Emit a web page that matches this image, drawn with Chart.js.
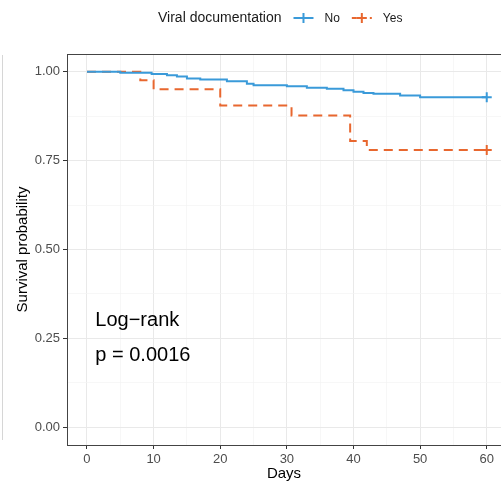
<!doctype html>
<html>
<head>
<meta charset="utf-8">
<title>Survival by viral documentation</title>
<script src="https://cdn.jsdelivr.net/npm/chart.js@4.4.1/dist/chart.umd.min.js"></script>
<style>
  html, body { margin: 0; padding: 0; background: #fff; overflow: hidden; }
</style>
</head>
<body>
<canvas id="km" width="501" height="486"></canvas>
<script>
// Kaplan-Meier steps: day of each drop and survival right after it
var daysNo  = [0, 5, 9.7, 12, 13.5, 15, 17, 21, 24, 25, 30, 33, 36, 38.5, 40, 41.5, 43, 47, 50, 60];
var survNo  = [1, 0.997, 0.994, 0.99, 0.987, 0.981, 0.978, 0.973, 0.966, 0.962, 0.959, 0.955, 0.952, 0.948, 0.944, 0.94, 0.938, 0.933, 0.928, 0.928];
var daysYes = [0, 8, 10, 20, 30.7, 39.5, 42, 60];
var survYes = [1, 0.976, 0.951, 0.905, 0.877, 0.805, 0.78, 0.78];
var censorNo  = [60];
var censorYes = [60];

var groups = ['No', 'Yes'];
var colors = ['#3a9ad9', '#e8672f'];
var xMajor = [0, 10, 20, 30, 40, 50, 60];
var yMajor = [0, 0.25, 0.5, 0.75, 1];
var testName = 'Log\u2212rank';
var pText = 'p = 0.0016';

var FONT = '"Liberation Sans", Arial, Helvetica, sans-serif';

function toPoints(days, surv) {
    return days.map(function(d, i) { return { x: d, y: surv[i] }; });
}
function isMajorY(v) {
    return yMajor.some(function(m) { return Math.abs(m - v) < 1e-6; });
}

function censorRadius(list) {
    return function(ctx) {
        return ctx.raw && list.indexOf(ctx.raw.x) >= 0 ? 5 : 0;
    };
}

// keep the panel edges fixed, no extra room for edge labels
function noPadding(s) {
    s.paddingLeft = 0;
    s.paddingRight = 0;
    s.paddingTop = 0;
    s.paddingBottom = 0;
}

// legend row, p-value text and the panel frame
var extras = {
    id: 'extras',
    afterDraw: function(chart) {
        var c = chart.ctx;
        var area = chart.chartArea;
        var xs = chart.scales.x, ys = chart.scales.y;
        c.save();

        // top edge of the panel
        c.strokeStyle = '#444';
        c.lineWidth = 1;
        c.beginPath();
        c.moveTo(area.left, area.top + 0.5);
        c.lineTo(area.right, area.top + 0.5);
        c.stroke();

        // faint rule at far left
        c.strokeStyle = '#d6d6d6';
        c.beginPath();
        c.moveTo(2.5, 55);
        c.lineTo(2.5, 440);
        c.stroke();

        // legend
        c.textBaseline = 'middle';
        c.fillStyle = '#1a1a1a';
        c.font = '14px ' + FONT;
        var x = 158, y = 18;
        c.fillText('Viral documentation', x, y);
        x += c.measureText('Viral documentation').width + 12;
        c.font = '12px ' + FONT;
        groups.forEach(function(g, i) {
            c.strokeStyle = colors[i];
            c.lineWidth = 2;
            c.setLineDash(i === 1 ? [5, 4] : []);
            c.beginPath();
            c.moveTo(x, y);
            c.lineTo(x + 20, y);
            c.stroke();
            c.setLineDash([]);
            c.beginPath();
            c.moveTo(x + 10, y - 5);
            c.lineTo(x + 10, y + 5);
            c.moveTo(x + 5, y);
            c.lineTo(x + 15, y);
            c.stroke();
            x += 31;
            c.fillStyle = '#1a1a1a';
            c.fillText(g, x, y + 1);
            x += c.measureText(g).width + 12;
        });

        // test result
        c.font = '20px ' + FONT;
        c.fillStyle = '#000';
        c.textAlign = 'left';
        c.fillText(testName, xs.getPixelForValue(1.25), ys.getPixelForValue(0.3));
        c.fillText(pText, xs.getPixelForValue(1.25), ys.getPixelForValue(0.203));
        c.restore();
    }
};

var config = {
    type: 'line',
    data: {
        datasets: [{
            label: groups[0],
            data: toPoints(daysNo, survNo),
            borderColor: colors[0],
            backgroundColor: colors[0],
            borderWidth: 2,
            stepped: 'before',
            pointStyle: 'cross',
            pointRadius: censorRadius(censorNo),
            pointBorderWidth: 2,
            pointHoverRadius: 0
        }, {
            label: groups[1],
            data: toPoints(daysYes, survYes),
            borderColor: colors[1],
            backgroundColor: colors[1],
            borderWidth: 2,
            borderDash: [9, 6],
            stepped: 'before',
            pointStyle: 'cross',
            pointRadius: censorRadius(censorYes),
            pointBorderWidth: 2,
            pointHoverRadius: 0
        }]
    },
    options: {
        responsive: false,
        animation: false,
        devicePixelRatio: 1,
        layout: {
            autoPadding: false,
            padding: { top: 54, left: 0, right: 0, bottom: 0 }
        },
        plugins: {
            legend: { display: false },
            tooltip: { enabled: false }
        },
        scales: {
            x: {
                type: 'linear',
                min: -3,
                max: 62.14,
                afterFit: function(s) { s.height = 41; noPadding(s); },
                border: { display: true, color: '#444', width: 1 },
                grid: {
                    color: function(ctx) { return ctx.tick && ctx.tick.value % 10 === 0 ? '#e9e9e9' : '#f4f4f4'; },
                    lineWidth: function(ctx) { return ctx.tick && ctx.tick.value % 10 === 0 ? 1 : 0.7; },
                    tickColor: function(ctx) { return ctx.tick && ctx.tick.value % 10 === 0 ? '#333' : 'rgba(0,0,0,0)'; },
                    tickLength: 4,
                    tickWidth: 1
                },
                ticks: {
                    stepSize: 5,
                    includeBounds: false,
                    autoSkip: false,
                    maxRotation: 0,
                    padding: 3,
                    color: '#4d4d4d',
                    font: { family: FONT, size: 13 },
                    callback: function(v) { return xMajor.indexOf(v) >= 0 ? String(v) : ''; }
                },
                title: {
                    display: true,
                    text: 'Days',
                    color: '#000',
                    font: { family: FONT, size: 15 },
                    padding: { top: 0, bottom: 3 }
                }
            },
            y: {
                type: 'linear',
                min: -0.05,
                max: 1.05,
                afterFit: function(s) { s.width = 67; noPadding(s); },
                border: { display: true, color: '#444', width: 1 },
                grid: {
                    color: function(ctx) { return ctx.tick && isMajorY(ctx.tick.value) ? '#e9e9e9' : '#f4f4f4'; },
                    lineWidth: function(ctx) { return ctx.tick && isMajorY(ctx.tick.value) ? 1 : 0.7; },
                    tickColor: function(ctx) { return ctx.tick && isMajorY(ctx.tick.value) ? '#333' : 'rgba(0,0,0,0)'; },
                    tickLength: 4,
                    tickWidth: 1
                },
                ticks: {
                    stepSize: 0.125,
                    includeBounds: false,
                    autoSkip: false,
                    padding: 3,
                    color: '#4d4d4d',
                    font: { family: FONT, size: 13 },
                    callback: function(v) { return isMajorY(v) ? v.toFixed(2) : ''; }
                },
                title: {
                    display: true,
                    text: 'Survival probability',
                    color: '#000',
                    font: { family: FONT, size: 15 },
                    padding: { top: 14, bottom: 0 }
                }
            }
        }
    },
    plugins: [extras]
};

window.onload = function() {
    var ctx = document.getElementById('km').getContext('2d');
    window.kmChart = new Chart(ctx, config);
};
</script>
</body>
</html>
